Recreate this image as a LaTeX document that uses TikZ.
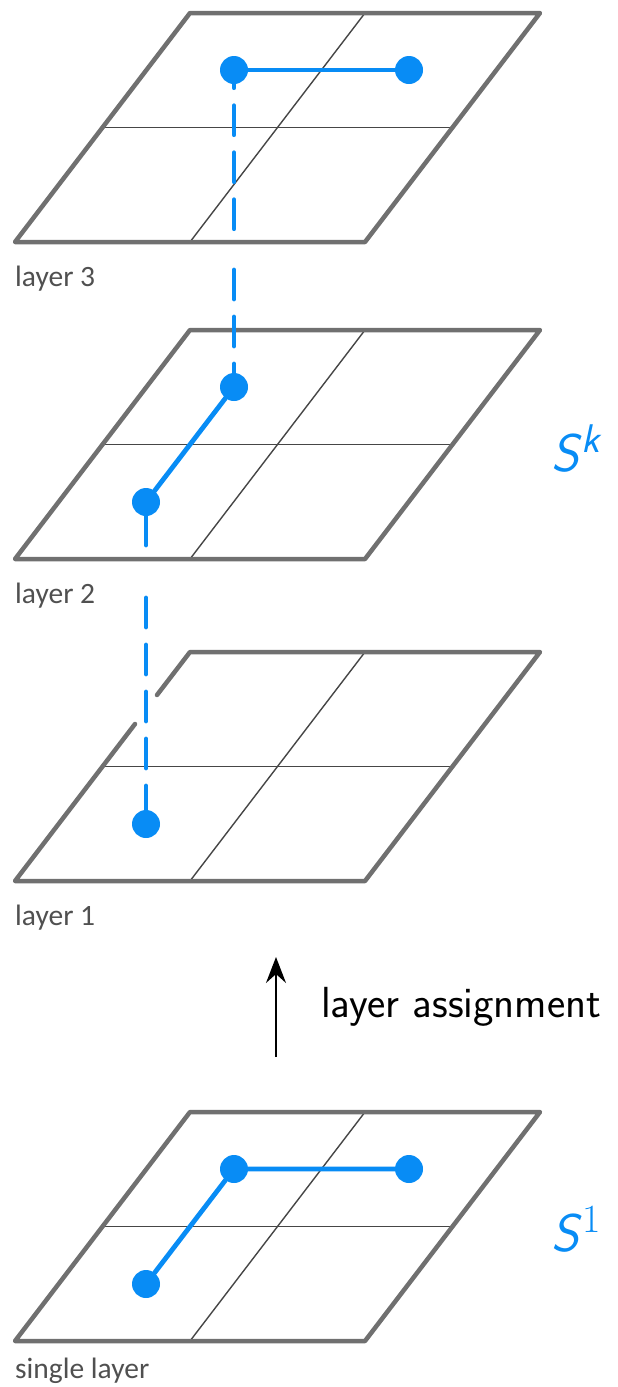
\documentclass[tikz,border=0pt]{standalone}
\usepackage{fontspec}
\usepackage{tikz}
\usetikzlibrary{arrows.meta}
\newfontfamily\lblfont{Carlito}
\definecolor{rimgray}{RGB}{112,112,112}
\definecolor{gridgray}{RGB}{70,70,70}
\definecolor{lblgray}{RGB}{80,80,80}
\definecolor{wireblue}{RGB}{8,140,245}
\newcommand{\supfont}{\fontsize{40}{42}\selectfont}

\begin{document}
\begin{tikzpicture}[x=1pt, y=-1pt,
  rim/.style={draw=rimgray, line width=4.5pt, line join=round, line cap=round},
  cellline/.style={draw=gridgray, line width=1.4pt},
  wire/.style={draw=wireblue, line width=4.8pt, line cap=round},
  via/.style={wire, dash pattern=on 29pt off 18pt},
  dot/.style={circle, fill=wireblue, inner sep=0pt, minimum size=28pt},
  layerlbl/.style={font=\lblfont\fontsize{29.5}{32}\selectfont, text=lblgray, anchor=base west, inner sep=0pt},
  setlbl/.style={font=\sffamily\fontsize{53}{56}\selectfont, text=wireblue, anchor=base west, inner sep=0pt}]
  \useasboundingbox (0,0) rectangle (618,1387);

  % Cell lines
  \foreach \t in {13,330,652,1112} {
    \draw[cellline] (102.5,\t+114.5) -- (452.5,\t+114.5);
    \draw[cellline] (365,\t) -- (190,\t+229);
  }
  % Plane rims
  \foreach \t in {13,330,1112}
    \draw[rim] (190,\t) -- (540,\t) -- (365,\t+229) -- (15,\t+229) -- cycle;
  % layer 1, rim broken where the via passes
  \draw[rim] (157,695) -- (190,652) -- (540,652) -- (365,881) -- (15,881) -- (135,724);

  % Layer names
  \node[layerlbl] (lbl3) at (15,286) {layer 3};
  \node[layerlbl] (lbl2) at (15,603) {layer 2};
  \node[layerlbl] (lbl1) at (15,925) {layer 1};
  \node[layerlbl] (lbls) at (15,1378) {single layer};

  % Pins
  \node[dot] (d3a) at (234,70) {};
  \node[dot] (d3b) at (409,70) {};
  \node[dot] (d2a) at (234,387) {};
  \node[dot] (d2b) at (146,502) {};
  \node[dot] (d1a) at (146,824) {};
  \node[dot] (s1a) at (234,1169) {};
  \node[dot] (s1b) at (409,1169) {};
  \node[dot] (s1c) at (146,1284) {};

  % Wires
  \draw[wire] (d3a) -- (d3b);
  \draw[wire] (d2a) -- (d2b);
  \draw[wire] (s1c) -- (s1a) -- (s1b);

  % Vias between layers
  \coordinate (v3top) at (234,230);
  \coordinate (v3bot) at (234,270);
  \coordinate (v2top) at (146,545);
  \coordinate (v2bot) at (146,598);
  \draw[via, dash phase=25.5pt] (d3a) -- (v3top);
  \draw[via] (v3bot) -- (d2a);
  \draw[via] (d2b) -- (v2top);
  \draw[via] (v2bot) -- (d1a);

  % Set names
  \node[setlbl] (sk) at (551,471) {\slshape S\kern3pt\raisebox{19pt}{\supfont\slshape k}};
  \node[setlbl] (s1) at (551,1251) {\slshape S\kern4pt\raisebox{19pt}{\supfont\rmfamily\upshape 1}};

  % Assignment arrow
  \coordinate (asgfoot) at (276,1057);
  \coordinate (asghead) at (276,957);
  \draw[line width=2pt, -{Stealth[length=26pt, width=20pt, inset=9pt]}] (asgfoot) -- (asghead);
  \node[font=\sffamily\fontsize{43.5}{46}\selectfont, anchor=base west, inner sep=0pt] (asg) at (321,1017) {layer assignment};
\end{tikzpicture}
\end{document}
